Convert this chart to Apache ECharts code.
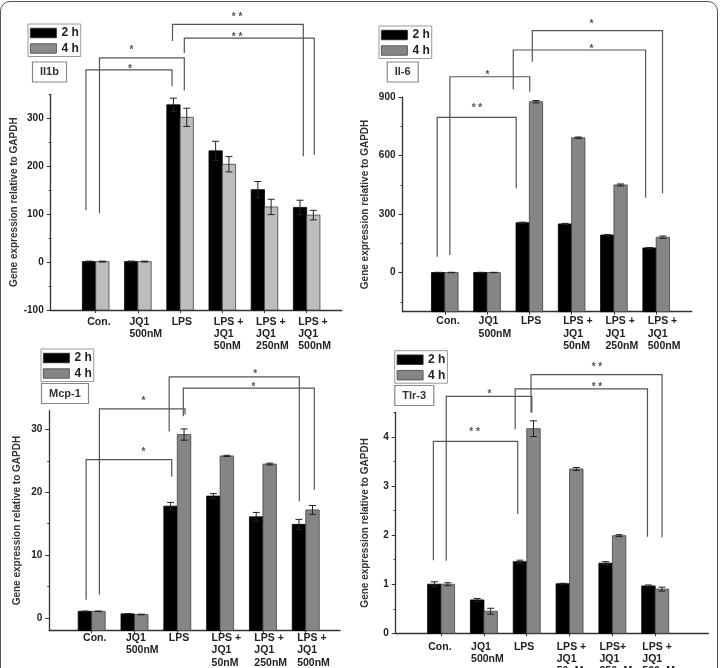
<!DOCTYPE html>
<html>
<head>
<meta charset="utf-8">
<script src="https://cdn.jsdelivr.net/npm/echarts@6/dist/echarts.min.js"></script>
<style>
  html, body { margin: 0; padding: 0; background: #fff; width: 720px; height: 668px; overflow: hidden; }
  #frame { position: absolute; left: 0; top: 1px; width: 716px; height: 700px; border: 1.5px solid #555; border-radius: 10px; }
  #chart { position: absolute; left: 0; top: 0; width: 720px; height: 668px; }
</style>
</head>
<body>
<div id="frame"></div>
<div id="chart"></div>
<script>
// categories, x positions 1..6 on the x axis
const positions = [1, 2, 3, 4, 5, 6]
const categoriesA = ['Con.', 'JQ1\n500nM', 'LPS', 'LPS +\nJQ1\n50nM', 'LPS +\nJQ1\n250nM', 'LPS +\nJQ1\n500nM']
const categoriesB = ['Con.', 'JQ1\n500nM', 'LPS', 'LPS +\nJQ1\n50nM', 'LPS+\nJQ1\n250nM', 'LPS +\nJQ1\n500nM']
const panelNames = ['Il1b', 'Il-6', 'Mcp-1', 'Tlr-3']
const yName = 'Gene expression relative to GAPDH'

// Il1b
const il1b2h = [1, 1, 328, 232, 151, 114]
const il1b2hErr = [1, 1, 14, 20, 17, 15]
const il1b4h = [1, 1, 302, 204, 115, 98]
const il1b4hErr = [1, 1, 19, 16, 16, 10]
const il1bTicks = [-100, 0, 100, 200, 300]
const il1bMinor = [-50, 50, 150, 250, 350]
// significance brackets: [x1, x2, yTop, yLeftEnd, yRightEnd, starX, starY]
const il1bSig = [
  [0.77, 2.81, 401, 108, 367, 1.81, 408],
  [1.09, 3.10, 426, 102, 358, 1.85, 448],
  [2.82, 5.92, 496, 461, 221, 4.35, 517],
  [3.10, 6.18, 467, 436, 224, 4.35, 476]
]
const il1bSigText = ['*', '*', '* *', '* *']

// Il-6
const il62h = [1, 1, 256, 250, 193, 127]
const il62hErr = [1, 1, 3, 3, 3, 2]
const il64h = [1, 1, 877, 692, 450, 182]
const il64hErr = [1, 1, 6, 4, 5, 6]
const il6Ticks = [0, 300, 600, 900]
const il6Minor = [-150, 150, 450, 750]
const il6Sig = [
  [0.82, 2.69, 797, 82, 433, 1.76, 860],
  [1.12, 3.01, 1005, 91, 928, 2.01, 1026],
  [2.62, 5.75, 1142, 940, 385, 4.47, 1159],
  [3.07, 6.15, 1241, 1082, 407, 4.47, 1292]
]
const il6SigText = ['* *', '*', '*', '*']

// Mcp-1
const mcp2h = [1.05, 0.65, 17.8, 19.4, 16.1, 14.9]
const mcp2hErr = [0.05, 0.05, 0.6, 0.4, 0.7, 0.8]
const mcp4h = [1.05, 0.55, 29.2, 25.8, 24.5, 17.2]
const mcp4hErr = [0.05, 0.05, 0.9, 0.1, 0.15, 0.7]
const mcpTicks = [0, 10, 20, 30]
const mcpMinor = [5, 15, 25]
const mcpSig = [
  [0.87, 2.87, 25.2, 2.9, 22.5, 2.21, 26.8],
  [1.18, 3.18, 33.3, 3.7, 32.4, 2.21, 35.0],
  [2.81, 5.85, 38.4, 29.7, 18.6, 4.82, 39.3],
  [3.14, 6.20, 36.6, 32.1, 20.4, 4.78, 37.2]
]
const mcpSigText = ['*', '*', '*', '*']

// Tlr-3
const tlr2h = [1.0, 0.68, 1.46, 1.01, 1.43, 0.965]
const tlr2hErr = [0.05, 0.03, 0.03, 0.01, 0.03, 0.02]
const tlr4h = [1.0, 0.45, 4.17, 3.35, 1.99, 0.9]
const tlr4hErr = [0.03, 0.06, 0.16, 0.03, 0.02, 0.04]
const tlrTicks = [0, 1, 2, 3, 4]
const tlrMinor = [0.5, 1.5, 2.5, 3.5, 4.5]
const tlrSig = [
  [0.82, 2.79, 3.91, 1.49, 2.43, 1.78, 4.15],
  [1.12, 3.12, 4.83, 1.48, 4.50, 2.13, 4.94],
  [2.73, 5.82, 4.98, 4.16, 1.97, 4.64, 5.08],
  [3.10, 6.16, 5.27, 4.50, 1.95, 4.64, 5.48]
]
const tlrSigText = ['* *', '*', '* *', '* *']

const FONT = 'Liberation Sans, Arial, sans-serif'
const BAR_FRAC = 0.315

// 每个小图的数据
const panels = [
  { cats: categoriesA, v2: il1b2h, e2: il1b2hErr, v4: il1b4h, e4: il1b4hErr, ticks: il1bTicks, minor: il1bMinor, sig: il1bSig, sigText: il1bSigText },
  { cats: categoriesA, v2: il62h, e2: il62hErr, v4: il64h, e4: il64hErr, ticks: il6Ticks, minor: il6Minor, sig: il6Sig, sigText: il6SigText },
  { cats: categoriesA, v2: mcp2h, e2: mcp2hErr, v4: mcp4h, e4: mcp4hErr, ticks: mcpTicks, minor: mcpMinor, sig: mcpSig, sigText: mcpSigText },
  { cats: categoriesB, v2: tlr2h, e2: tlr2hErr, v4: tlr4h, e4: tlr4hErr, ticks: tlrTicks, minor: tlrMinor, sig: tlrSig, sigText: tlrSigText }
]

// 布局（像素位置）
const frames = [
  { grid: { left: 50.7, top: 94.3, width: 291, height: 215.7 }, x: [-0.066, 6.83], y: [-100, 350], gap: 31, shift: 0.2, margin: 5.5,
    legend: { left: 28, top: 24 }, title: { left: 32, top: 61.5 }, gray: '#bdbdbd', legendGray: '#8c8c8c' },
  { grid: { left: 402.5, top: 97.2, width: 289.2, height: 214.5 }, x: [0, 6.84], y: [-200, 900], gap: 32.5, shift: 0.2, margin: 3.5,
    legend: { left: 379, top: 26 }, title: { left: 386.7, top: 61.5 }, gray: '#858585', legendGray: '#858585' },
  { grid: { left: 49.3, top: 410.7, width: 290.7, height: 219.8 }, x: [0.01, 6.80], y: [-2, 33], gap: 27, shift: 0.2, margin: 1.5,
    legend: { left: 41, top: 349 }, title: { left: 41, top: 383 }, gray: '#858585', legendGray: '#858585' },
  { grid: { left: 395.7, top: 412.5, width: 312.6, height: 220.8 }, x: [-0.06, 7.24], y: [0, 4.5], gap: 25, shift: 0.3, margin: 7.5,
    legend: { left: 394.7, top: 350.7 }, title: { left: 394.3, top: 385 }, gray: '#858585', legendGray: '#858585' }
]

function barRenderer(yMin, side, fill, stroke) {
  return function (params, api) {
    const x = api.value(0)
    const v = api.value(1)
    const e = api.value(2)
    const w = api.size([1, 0])[0] * BAR_FRAC
    const top = api.coord([x, v])
    const base = api.coord([x, yMin])
    const x0 = side < 0 ? top[0] - w : top[0]
    const cx = x0 + w / 2
    const et = api.coord([x, v + e])[1]
    const eb = api.coord([x, v - e])[1]
    const errStyle = { stroke: '#222', lineWidth: 1 }
    return {
      type: 'group',
      children: [
        { type: 'rect', shape: { x: x0, y: top[1], width: w, height: base[1] - top[1] }, style: { fill: fill, stroke: stroke, lineWidth: 0.8 } },
        { type: 'line', shape: { x1: cx, y1: et, x2: cx, y2: eb }, style: errStyle },
        { type: 'line', shape: { x1: cx - 3.5, y1: et, x2: cx + 3.5, y2: et }, style: errStyle },
        { type: 'line', shape: { x1: cx - 3.5, y1: eb, x2: cx + 3.5, y2: eb }, style: errStyle }
      ]
    }
  }
}

function sigRenderer(texts) {
  return function (params, api) {
    const x1 = api.value(0), x2 = api.value(1), yt = api.value(2)
    const a = api.coord([x1, api.value(3)])
    const b = api.coord([x1, yt])
    const c = api.coord([x2, yt])
    const d = api.coord([x2, api.value(4)])
    const s = api.coord([api.value(5), api.value(6)])
    return {
      type: 'group',
      children: [
        { type: 'polyline', shape: { points: [a, b, c, d] }, style: { stroke: '#555', fill: 'none', lineWidth: 1.2 } },
        { type: 'text', x: s[0], y: s[1] + 3, style: { text: texts[params.dataIndex], fill: '#555', font: 'bold 10px ' + FONT, align: 'center', verticalAlign: 'middle' } }
      ]
    }
  }
}

const option = {
  animation: false,
  backgroundColor: 'transparent',
  title: [],
  legend: [],
  grid: [],
  xAxis: [],
  yAxis: [],
  series: []
}

panels.forEach((p, i) => {
  const f = frames[i]
  option.grid.push(Object.assign({ outerBoundsMode: 'none', containLabel: false }, f.grid))
  option.title.push({
    text: panelNames[i], left: f.title.left, top: f.title.top, padding: [4, 8],
    borderColor: '#888', borderWidth: 1.2,
    textStyle: { fontSize: 11, fontWeight: 'bold', color: '#333', lineHeight: 13, fontFamily: FONT }
  })
  option.legend.push({
    orient: 'vertical', left: f.legend.left, top: f.legend.top, padding: [3, 2, 2, 2],
    itemWidth: 26, itemHeight: 9.5, itemGap: 3.5, icon: 'rect', selectedMode: false,
    borderColor: '#999', borderWidth: 1,
    textStyle: { fontSize: 12, fontWeight: 'bold', color: '#222', lineHeight: 12, fontFamily: FONT },
    data: [
      { name: '2 h', itemStyle: { color: '#000', borderColor: '#222', borderWidth: 0.8 } },
      { name: '4 h', itemStyle: { color: f.legendGray, borderColor: '#444', borderWidth: 0.8 } }
    ]
  })
  option.xAxis.push({
    type: 'value', gridIndex: i, min: f.x[0], max: f.x[1],
    axisLine: { show: true, onZero: false, lineStyle: { color: '#333', width: 1.3 } },
    axisTick: { show: true, customValues: positions, length: 3, lineStyle: { color: '#333' } },
    axisLabel: {
      customValues: positions.map(v => v - f.shift),
      formatter: v => p.cats[Math.round(v + f.shift) - 1] || '',
      align: 'left', margin: f.margin, lineHeight: 12.3,
      fontSize: 10.5, fontWeight: 'bold', color: '#222', fontFamily: FONT
    },
    splitLine: { show: false }
  })
  // 主刻度
  option.yAxis.push({
    type: 'value', gridIndex: i, position: 'left', min: f.y[0], max: f.y[1],
    name: yName, nameLocation: 'middle', nameGap: f.gap,
    nameTextStyle: { fontSize: 10, fontWeight: 'bold', color: '#333', fontFamily: FONT },
    axisLine: { show: true, onZero: false, lineStyle: { color: '#333', width: 1.3 } },
    axisTick: { show: true, customValues: p.ticks, length: 4, lineStyle: { color: '#333' } },
    axisLabel: { customValues: p.ticks, margin: 7, fontSize: 10, fontWeight: 'bold', color: '#222', fontFamily: FONT },
    splitLine: { show: false }
  })
  // 次刻度
  option.yAxis.push({
    type: 'value', gridIndex: i, position: 'left', min: f.y[0], max: f.y[1],
    axisLine: { show: false, onZero: false },
    axisTick: { show: true, customValues: p.minor, length: 2, lineStyle: { color: '#333' } },
    axisLabel: { show: false },
    splitLine: { show: false }
  })
  option.series.push({
    type: 'custom', name: '2 h', xAxisIndex: i, yAxisIndex: i * 2,
    itemStyle: { color: '#000' },
    renderItem: barRenderer(f.y[0], -1, '#000', '#000'),
    data: positions.map((x, k) => [x, p.v2[k], p.e2[k]])
  })
  option.series.push({
    type: 'custom', name: '4 h', xAxisIndex: i, yAxisIndex: i * 2,
    itemStyle: { color: f.gray },
    renderItem: barRenderer(f.y[0], 1, f.gray, '#444'),
    data: positions.map((x, k) => [x, p.v4[k], p.e4[k]])
  })
  option.series.push({
    type: 'custom', name: 'sig' + i, xAxisIndex: i, yAxisIndex: i * 2, clip: false, silent: true,
    renderItem: sigRenderer(p.sigText),
    data: p.sig
  })
})

const chart = echarts.init(document.getElementById('chart'), null, { renderer: 'canvas' })
chart.setOption(option)
</script>
</body>
</html>
